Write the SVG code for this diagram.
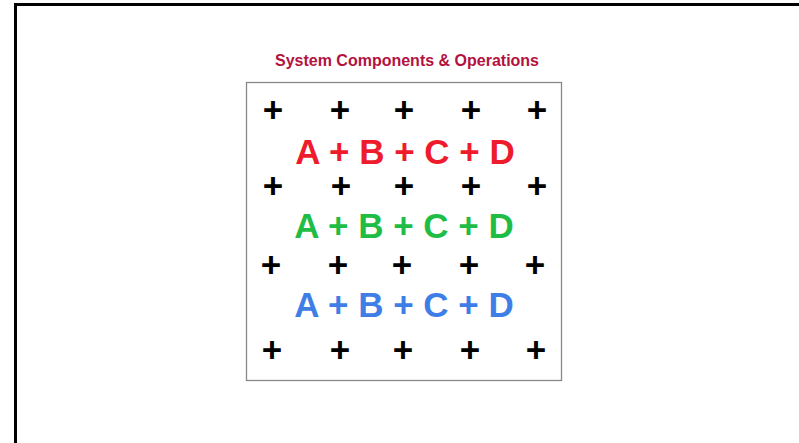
<svg xmlns="http://www.w3.org/2000/svg" width="799" height="443" viewBox="0 0 799 443">
<style>
.t{font-family:"Liberation Sans",Arial,sans-serif;font-weight:bold;text-anchor:middle}
.p{font-size:35px;fill:#000}
.r{font-size:35px}
</style>
<rect x="0" y="0" width="799" height="443" fill="#fff"/>
<path d="M15.5,443 V4.5 H799" fill="none" stroke="#000" stroke-width="3"/>
<text class="t" x="407" y="66" font-size="16" fill="#b3123f">System Components &amp; Operations</text>
<g id="panel">
<rect x="246.5" y="82.5" width="315" height="298" fill="#fff" stroke="#888" stroke-width="1.3"/>
</g>
<g id="plus-grid" class="t p">
<text x="273" y="122">+</text><text x="340" y="122">+</text><text x="404" y="122">+</text><text x="471" y="122">+</text><text x="537" y="122">+</text>
<text x="273" y="198">+</text><text x="341" y="198">+</text><text x="404" y="198">+</text><text x="471" y="198">+</text><text x="537" y="198">+</text>
<text x="271" y="277">+</text><text x="338" y="277">+</text><text x="402" y="277">+</text><text x="469" y="277">+</text><text x="535" y="277">+</text>
<text x="272" y="362">+</text><text x="340" y="362">+</text><text x="403" y="362">+</text><text x="470" y="362">+</text><text x="536" y="362">+</text>
</g>
<g id="row-red"><text class="t r" x="405" y="164" fill="#ee1b2d">A + B + C + D</text></g>
<g id="row-green"><text class="t r" x="404" y="238" fill="#1fbd45">A + B + C + D</text></g>
<g id="row-blue"><text class="t r" x="404" y="317" fill="#3f7ee6">A + B + C + D</text></g>
</svg>
